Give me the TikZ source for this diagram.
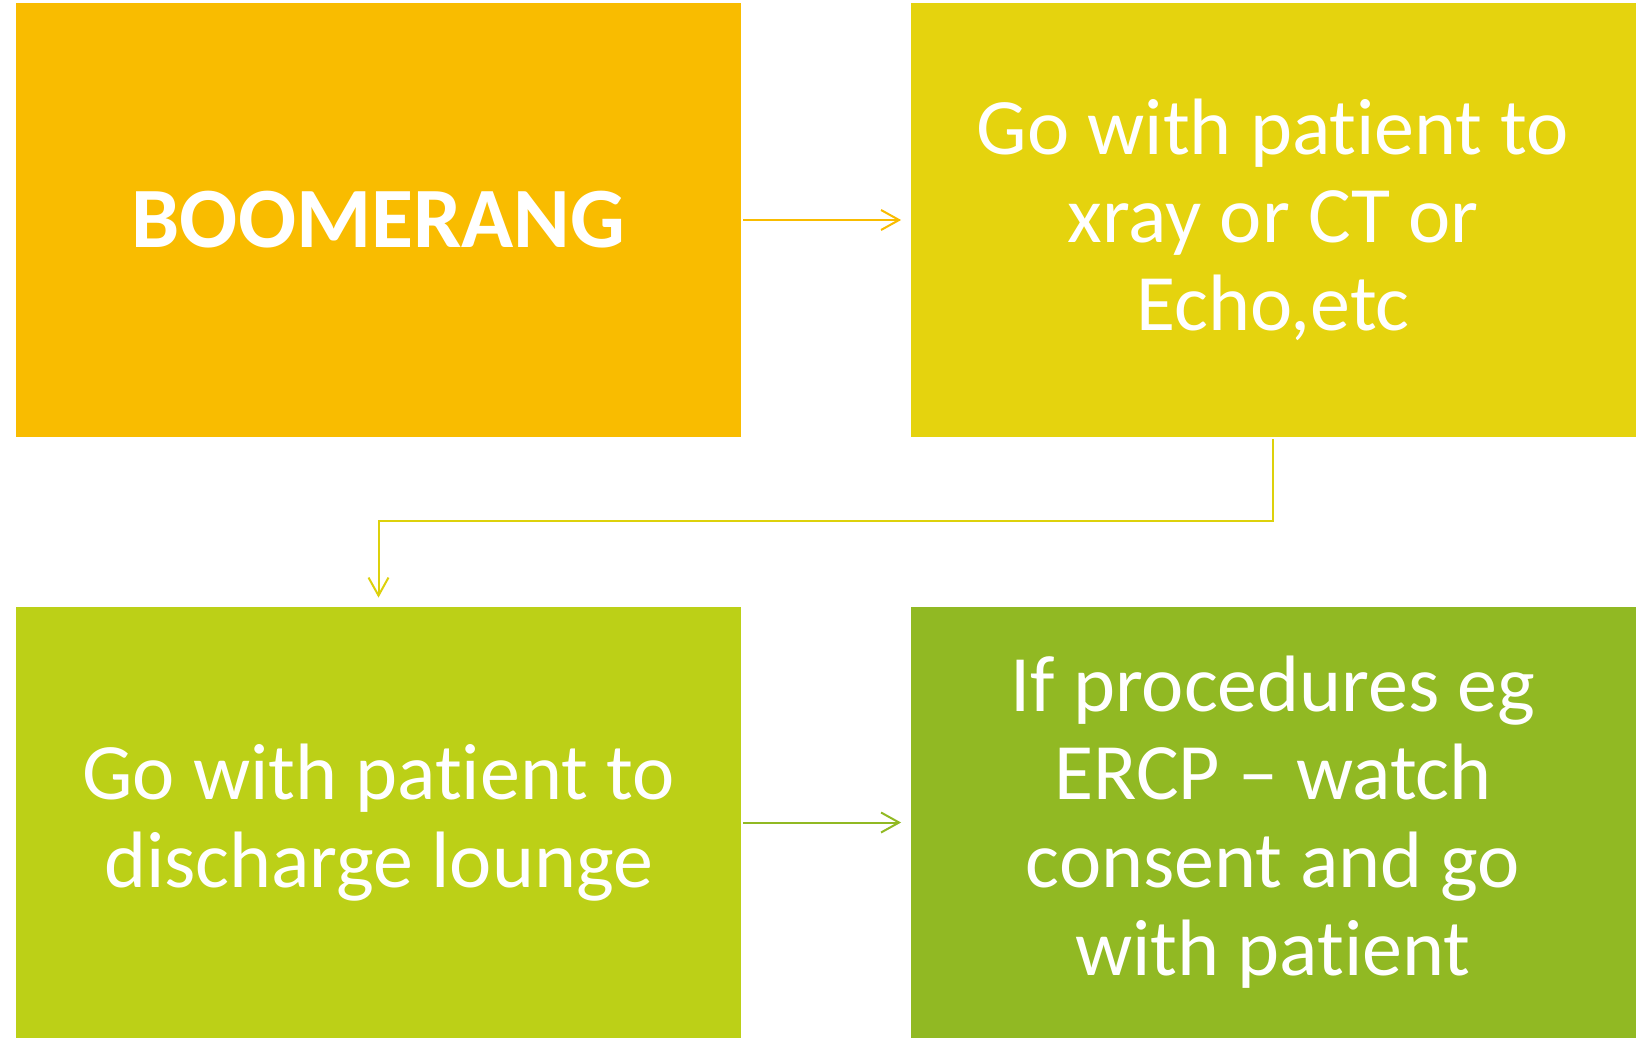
\documentclass[tikz,border=0pt]{standalone}
\usepackage{fontspec}
\setmainfont{Carlito}[Ligatures={NoCommon}]
\usetikzlibrary{arrows.meta}
\definecolor{cOne}{HTML}{F9BC00}
\definecolor{cTwo}{HTML}{E5D30E}
\definecolor{cThree}{HTML}{BCD017}
\definecolor{cFour}{HTML}{91B923}
\definecolor{cLink}{HTML}{DDD10C}
\begin{document}
\begin{tikzpicture}[x=0.5pt,y=-0.5pt,
  box/.style={rectangle, draw=none, inner sep=0pt, text=white, align=center,
    minimum width=362.5pt, font=\fontsize{40}{44}\selectfont},
  link/.style={line width=1pt, -{Straight Barb[length=9pt,width=10pt]}, shorten >=4.5pt, shorten <=1pt}]
\useasboundingbox (0,0) rectangle (1644,1038);
\node[box, fill=cOne, minimum height=217pt, font=\fontsize{43}{44}\selectfont\bfseries] (b1) at (378.5,220) {BOOMERANG};
\node[box, fill=cTwo, minimum height=217pt] (b2) at (1273,220) {Go with patient to\\xray or CT or\\Echo,etc};
\node[box, fill=cThree, minimum height=215.5pt] (b3) at (378.5,822.5) {Go with patient to\\discharge lounge};
\node[box, fill=cFour, minimum height=215.5pt] (b4) at (1273,822.5) {If procedures eg\\ERCP – watch\\consent and go\\with patient};
\coordinate (m) at (1273,521);
\draw[link, cOne] (b1.east) -- (b2.west);
\draw[link, cLink] (b2.south) -- (m) -| (b3.north);
\draw[link, cFour] (b3.east) -- (b4.west);
\end{tikzpicture}
\end{document}
